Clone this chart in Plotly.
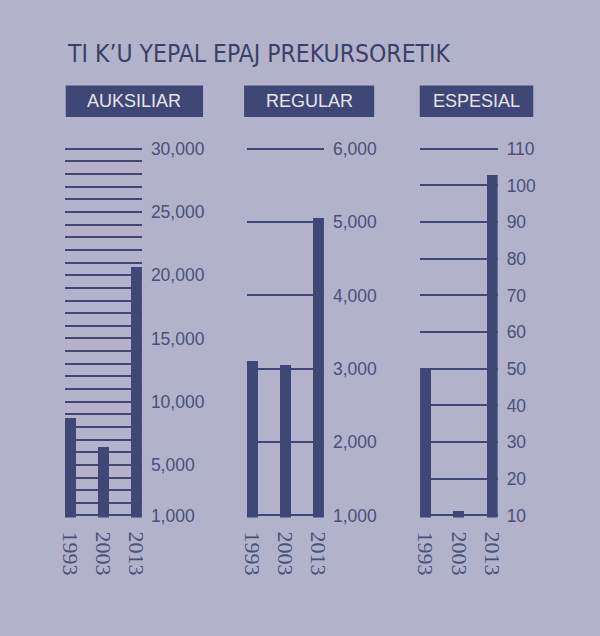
import plotly.graph_objects as go

# page has an 8px body margin; figure sized so the page is exactly 600x636
OX, OY = 8, 8
W, H = 600 - 2 * OX, 636 - 2 * OY

title = "TI K’U YEPAL EPAJ PREKURSORETIK"
years = ["1993", "2003", "2013"]
panels = ["AUKSILIAR", "REGULAR", "ESPESIAL"]
auksiliar = [8700, 6400, 20700]
regular = [3110, 3050, 5060]
espesial = [50, 11.3, 103]

auk_ticks = [1000, 5000, 10000, 15000, 20000, 25000, 30000]
reg_ticks = [1000, 2000, 3000, 4000, 5000, 6000]
esp_ticks = [10, 20, 30, 40, 50, 60, 70, 80, 90, 100, 110]

BG = "#b2b3cb"
DARK = "#3f4776"
TXT = "#4a5078"

def px(x):
    return (x - OX) / W

def py(y):
    return 1 - (y - OY) / H

fig = go.Figure()
series = [auksiliar, regular, espesial]
for i, vals in enumerate(series):
    sfx = "" if i == 0 else str(i + 1)
    fig.add_trace(go.Bar(x=years, y=vals, width=0.32, marker=dict(color=DARK, line=dict(width=0)),
                         xaxis="x" + sfx, yaxis="y" + sfx, showlegend=False, hoverinfo="x+y"))

xdoms = [(59, 138), (245.5, 324.5), (423, 502.5)]
TOP, BOT, PAD = 144.3, 520.7, 2.0
ydom = [py(BOT + PAD), py(TOP - PAD)]
yranges = [[1000, 30000], [1000, 6000], [10, 110]]
yticks = [auk_ticks, reg_ticks, esp_ticks]
ytext = [[f"{v:,}" for v in auk_ticks], [f"{v:,}" for v in reg_ticks], [str(v) for v in esp_ticks]]

layout = dict(
    width=W, height=H,
    margin=dict(l=0, r=0, t=0, b=0),
    paper_bgcolor=BG, plot_bgcolor=BG,
    bargap=0,
    showlegend=False,
)
for i in range(3):
    sfx = "" if i == 0 else str(i + 1)
    lo, hi = yranges[i]
    per_px = (hi - lo) / (BOT - TOP)
    layout["xaxis" + sfx] = dict(
        domain=[px(xdoms[i][0]), px(xdoms[i][1])], anchor="y" + sfx,
        type="category", range=[-0.16, 2.16],
        showgrid=False, zeroline=False, showline=False, ticks="",
        tickangle=90, ticklabelstandoff=13,
        tickfont=dict(family="Liberation Serif", size=22, color=TXT),
    )
    ya = dict(
        domain=ydom, anchor="x" + sfx, side="right",
        range=[lo - PAD * per_px, hi + PAD * per_px],
        tickmode="array", tickvals=yticks[i], ticktext=ytext[i],
        showgrid=True, gridcolor=DARK, gridwidth=1.5,
        zeroline=False, showline=False, ticks="", ticklabelstandoff=8,
        tickfont=dict(family="Liberation Sans", size=17.5, color=TXT),
    )
    if i == 0:
        ya["minor"] = dict(tickmode="linear", tick0=0, dtick=1000, showgrid=True,
                           gridcolor=DARK, gridwidth=1.5, ticks="")
    layout["yaxis" + sfx] = ya

fig.update_layout(**layout)

boxes = [(60, 200.7), (242.7, 376), (422.7, 539)]
for (x0, x1), name in zip(boxes, panels):
    fig.add_shape(type="rect", xref="paper", yref="paper", x0=px(x0), x1=px(x1),
                  y0=py(111.7), y1=py(79.3), fillcolor=DARK, line=dict(width=0), layer="below")
    fig.add_annotation(xref="paper", yref="paper", x=px((x0 + x1) / 2), y=py(95.5),
                       text=name, showarrow=False, xanchor="center", yanchor="middle",
                       font=dict(family="Liberation Sans", size=18, color="#e4e5ee"))

fig.add_annotation(xref="paper", yref="paper", x=px(59), y=py(46), text=title,
                   showarrow=False, xanchor="left", yanchor="middle",
                   font=dict(family="DejaVu Sans Condensed, Liberation Sans", size=24.5, color="#3b4067"))

fig.write_html("out.html", config={"displayModeBar": False},
               post_script="document.body.style.background='" + BG + "';")
